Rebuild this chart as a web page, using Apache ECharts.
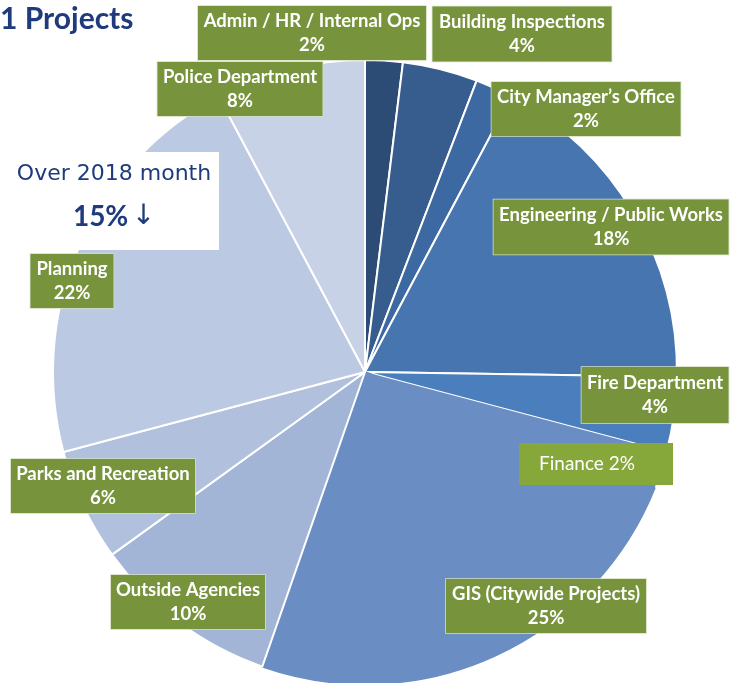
<!DOCTYPE html>
<html>
<head>
<meta charset="utf-8">
<script src="https://cdn.jsdelivr.net/npm/echarts@6/dist/echarts.min.js"></script>
<style>
html,body{margin:0;padding:0;background:#fff;}
#chart{width:736px;height:683px;}
</style>
</head>
<body>
<div id="chart"></div>
<script>
// ---- data ----
const categories = ['Admin / HR / Internal Ops', 'Building Inspections', 'City Manager\u2019s Office',
  'Engineering / Public Works', 'Fire Department', 'Finance', 'GIS (Citywide Projects)',
  'Outside Agencies', 'Parks and Recreation', 'Planning', 'Police Department'];
const shares = [2, 4, 2, 18, 4, 2, 25, 10, 6, 22, 8];
const titleText = '1 Projects';
const noteLine1 = 'Over 2018 month';
const noteValue = '15%';

// ---- styling / layout (not data) ----
const sliceColors = ['#2d4c75', '#365d8d', '#3d69a2', '#4675af', '#4a7ebd', '#6a8ec4',
  '#6a8ec4', '#a3b5d7', '#b0c0dd', '#bcc9e2', '#c8d2e7'];
// label box centre x, centre y, box width, box height
const labelBoxes = [[312, 33, 228, 54], [522, 34, 179, 55], [586, 109, 189, 54], [611, 227, 235, 55],
  [655, 395, 147, 56], [596, 464, 154, 42], [546, 606, 200, 54], [188, 602, 154, 54],
  [103, 486, 184, 54], [72, 281, 83, 54], [240, 89, 165, 54]];

const FIN = categories.indexOf('Finance');
const GIS = categories.indexOf('GIS (Citywide Projects)');

const pieData = categories.map(function (name, i) {
  const box = labelBoxes[i];
  const item = {
    name: name,
    value: shares[i],
    itemStyle: { color: sliceColors[i] },
    label: {
      width: box[2] - 6,
      padding: [(box[3] - 48) / 2, 3, (box[3] - 48) / 2, 3]
    }
  };
  if (i === FIN) {
    item.itemStyle.borderWidth = 0;
    item.label = {
      formatter: '{b} {c}%',
      fontWeight: 'normal',
      fontSize: 19,
      lineHeight: 36,
      backgroundColor: '#86a73a',
      borderWidth: 0,
      width: 116,
      padding: [3, 28, 3, 10]
    };
  }
  if (i === GIS) {
    item.itemStyle.borderColor = sliceColors[i];
  }
  return item;
});

const chart = echarts.init(document.getElementById('chart'), null, { renderer: 'canvas' });
chart.setOption({
  animation: false,
  backgroundColor: '#ffffff',
  title: {
    text: titleText,
    left: 0,
    top: 4,
    padding: 0,
    textStyle: { fontFamily: 'Lato', fontWeight: 'bold', fontSize: 30, color: '#1f3a7d' }
  },
  series: [{
    type: 'pie',
    center: [365, 372],
    radius: 312,
    startAngle: 90,
    clockwise: true,
    avoidLabelOverlap: false,
    data: pieData,
    itemStyle: { borderColor: '#ffffff', borderWidth: 2 },
    label: {
      show: true,
      position: 'outside',
      formatter: '{b}\n{c}%',
      color: '#ffffff',
      fontFamily: 'Lato',
      fontWeight: 'bold',
      fontSize: 18.5,
      lineHeight: 24,
      align: 'center',
      backgroundColor: '#77933c',
      borderColor: '#d5dfc0',
      borderWidth: 0.8
    },
    labelLine: { show: false },
    labelLayout: function (p) {
      const b = labelBoxes[p.dataIndex];
      return { x: b[0], y: b[1], align: 'center', verticalAlign: 'middle' };
    },
    emphasis: { disabled: true }
  }],
  graphic: [
    { type: 'rect', z: 100, shape: { x: 0, y: 152, width: 219, height: 98 }, style: { fill: '#ffffff' } },
    { type: 'text', z: 101, x: 114, y: 174,
      style: { text: noteLine1, fill: '#1f3a7d', font: '22px "DejaVu Sans"', align: 'center', verticalAlign: 'middle' } },
    { type: 'text', z: 101, x: 114, y: 217,
      style: {
        text: '{v|' + noteValue + '} {a|\u2193}',
        align: 'center', verticalAlign: 'middle',
        rich: {
          v: { fontFamily: 'Lato', fontWeight: 'bold', fontSize: 28, fill: '#1f3a7d', color: '#1f3a7d' },
          a: { fontFamily: 'DejaVu Sans', fontSize: 28, fill: '#1f3a7d', color: '#1f3a7d' }
        }
      } }
  ]
});
</script>
</body>
</html>
